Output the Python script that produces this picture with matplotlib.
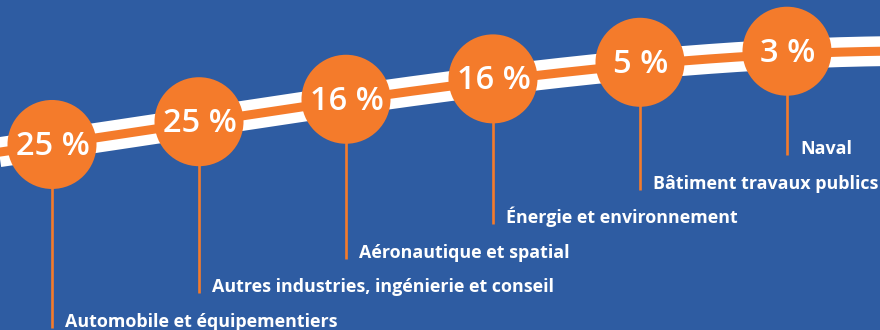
import numpy as np
import matplotlib
matplotlib.use('Agg')
import matplotlib.pyplot as plt
from matplotlib.patches import Circle

sectors = [
    'Automobile et équipementiers',
    'Autres industries, ingénierie et conseil',
    'Aéronautique et spatial',
    'Énergie et environnement',
    'Bâtiment travaux publics',
    'Naval',
]
shares = [25, 25, 16, 16, 5, 3]

BLUE = '#2E5CA2'
ORANGE = '#F47B2B'
WHITE = '#FFFFFF'

# road centre line (pixel coords), decorative
road_x = [0, 125, 270, 420, 570, 720, 880]
road_y = [152, 133.5, 112, 90, 71, 59, 51]
road = np.poly1d(np.polyfit(road_x, road_y, 3))

fig = plt.figure(figsize=(8.8, 3.3), dpi=100, facecolor=BLUE)
ax = fig.add_axes([0, 0, 1, 1])
ax.set_facecolor(BLUE)
ax.set_xlim(0, 880)
ax.set_ylim(330, 0)
ax.axis('off')

xs = np.linspace(-10, 890, 400)
ax.plot(xs, road(xs), color=WHITE, lw=21.5, solid_capstyle='butt', zorder=1)
ax.plot(xs, road(xs), color=ORANGE, lw=6.5, solid_capstyle='butt', zorder=2)

step = 147
for i, (name, val) in enumerate(zip(sectors, shares)):
    cx = 52 + step * i
    cy = road(cx) - 0.6 * i
    bottom = 328 - 34.6 * i
    ax.plot([cx, cx], [cy, bottom], color=ORANGE, lw=1.9,
            solid_capstyle='butt', zorder=3)
    ax.add_patch(Circle((cx, cy), 44.5, color=ORANGE, zorder=4, lw=0))
    ax.text(cx + 1, cy + 2, f'{val} %', color=WHITE, fontsize=23.5,
            family='Open Sans', weight='semibold',
            ha='center', va='center', zorder=5)
    ax.text(cx + 13, bottom - 1, name, color=WHITE, fontsize=12.9,
            family='Open Sans', weight='bold',
            ha='left', va='baseline', zorder=5)

fig.savefig('out.png', dpi=100, facecolor=BLUE)
